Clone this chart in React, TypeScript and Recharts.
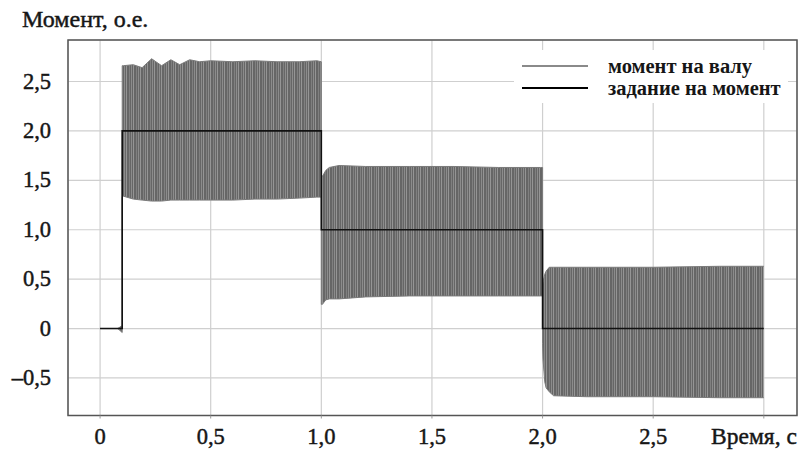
import React from 'react';
import {
  ComposedChart, Area, Line, XAxis, YAxis, CartesianGrid, Legend, ReferenceArea, Label,
} from 'recharts';

// Time axis, seconds
const torqueTime = [0, 0.08, 0.1, 0.1, 0.105, 0.15, 0.19, 0.233, 0.278, 0.32, 0.36, 0.405, 0.45, 0.5, 0.6, 0.7, 0.8, 0.9, 0.98, 1.0, 1.0, 1.005, 1.02, 1.036, 1.08, 1.2, 1.4, 1.6, 1.8, 1.99, 2.0, 2.0, 2.002, 2.01, 2.016, 2.03, 2.05, 2.2, 2.5, 2.8, 3.0];
// Upper envelope of shaft torque oscillation
const torqueHigh = [0, 0, 0.03, 2.66, 2.66, 2.67, 2.64, 2.73, 2.66, 2.72, 2.67, 2.72, 2.70, 2.71, 2.70, 2.71, 2.70, 2.70, 2.71, 2.70, 1.54, 1.54, 1.60, 1.63, 1.65, 1.64, 1.64, 1.64, 1.63, 1.63, 1.63, 0.45, 0.47, 0.55, 0.58, 0.62, 0.62, 0.62, 0.62, 0.63, 0.63];
// Lower envelope of shaft torque oscillation
const torqueLow = [0, 0, -0.04, 1.33, 1.34, 1.31, 1.30, 1.29, 1.29, 1.30, 1.30, 1.30, 1.30, 1.30, 1.30, 1.31, 1.31, 1.32, 1.33, 1.33, 0.245, 0.245, 0.29, 0.30, 0.30, 0.32, 0.33, 0.33, 0.33, 0.33, 0.33, -0.15, -0.31, -0.54, -0.6, -0.64, -0.68, -0.69, -0.69, -0.7, -0.7];

// Torque reference (step)
const refTime = [0, 0.1, 1.0, 2.0, 3.0];
const refValue = [0, 2, 1, 0, 0];

const xTicks = [0, 0.5, 1.0, 1.5, 2.0, 2.5, 3.0];
const yTicks = [-0.5, 0, 0.5, 1.0, 1.5, 2.0, 2.5];
const xDomain = [-0.145, 3.15];
const yDomain = [-0.88, 2.92];

const seriesNames = ['момент на валу', 'задание на момент'];
const seriesColors = ['#8a8a8a', '#000000'];

const torqueData = torqueTime.map((t, i) => ({ t, range: [torqueLow[i], torqueHigh[i]] }));
const refData = refTime.map((t, i) => ({ t, v: refValue[i] }));

const FONT = '"Liberation Serif", "Times New Roman", serif';
const TXT = '#161616';

const fmt = (v: number) => {
  if (v === 0) return '0';
  const s = Math.abs(v).toFixed(1).replace('.', ',');
  return v < 0 ? '\u2013' + s : s;
};

const YTick = (props: any) => {
  const { x, y, payload } = props;
  return (
    <text x={x} y={y} dy={7} textAnchor="end" fontFamily={FONT} fontSize={22.5} fill={TXT} stroke={TXT} strokeWidth={0.45}>
      {fmt(payload.value)}
    </text>
  );
};

const XTick = (props: any) => {
  const { x, y, payload } = props;
  if (payload.value === 3) {
    return (
      <text x={x + 33} y={y} dy={17} textAnchor="end" fontFamily={FONT} fontSize={23.5} fill={TXT} stroke={TXT} strokeWidth={0.45}>
        Время, с
      </text>
    );
  }
  return (
    <text x={x} y={y} dy={17} textAnchor="middle" fontFamily={FONT} fontSize={22.5} fill={TXT} stroke={TXT} strokeWidth={0.45}>
      {fmt(payload.value)}
    </text>
  );
};

const renderLegend = (props: any) => {
  const payload = [...(props.payload || [])].sort(
    (a: any, b: any) => seriesNames.indexOf(a.value) - seriesNames.indexOf(b.value)
  );
  return (
    <div style={{ background: '#fff', width: 274, height: 53 }}>
      <svg width={274} height={53}>
        {payload.map((entry: any, i: number) => {
          const idx = seriesNames.indexOf(entry.value);
          const color = idx >= 0 ? seriesColors[idx] : entry.color;
          const cy = 16 + i * 22;
          return (
            <g key={i}>
              <line x1={8} x2={74} y1={cy} y2={cy} stroke={color} strokeWidth={2} />
              <text x={94} y={cy + 7} fontFamily={FONT} fontSize={20.5} fontWeight="bold" fill={TXT}>
                {entry.value}
              </text>
            </g>
          );
        })}
      </svg>
    </div>
  );
};

export default function App() {
  return (
    <div style={{ position: 'absolute', left: 0, top: 0, width: 799, height: 453, background: '#fff' }}>
      <ComposedChart width={799} height={453} margin={{ top: 40, right: 2, bottom: 0, left: 0 }}>
        <defs>
          <pattern id="stripes" width={7} height={6} patternUnits="userSpaceOnUse">
            <rect x={0} y={0} width={7} height={6} fill="#666666" />
            <rect x={0} y={0} width={1} height={6} fill="#959595" />
            <rect x={3} y={0} width={1} height={6} fill="#808080" />
            <rect x={5} y={0} width={1} height={6} fill="#8c8c8c" />
          </pattern>
        </defs>
        <CartesianGrid stroke="#cfcfcf" strokeWidth={1.2} />
        <XAxis
          type="number"
          dataKey="t"
          domain={xDomain}
          ticks={xTicks}
          allowDataOverflow
          height={37.5}
          axisLine={false}
          tickLine={{ stroke: '#999' }}
          tickSize={3}
          tickMargin={8}
          tick={<XTick />}
          interval={0}
        />
        <YAxis
          type="number"
          domain={yDomain}
          ticks={yTicks}
          allowDataOverflow
          width={68}
          axisLine={false}
          tickLine={false}
          tickSize={0}
          tickMargin={17}
          tick={<YTick />}
          interval={0}
        >
          <Label
            content={() => (
              <text x={22} y={27} fontFamily={FONT} fontSize={24} fill={TXT} stroke={TXT} strokeWidth={0.45}>
                Момент, о.е.
              </text>
            )}
          />
        </YAxis>
        <Area
          data={torqueData}
          dataKey="range"
          name={seriesNames[0]}
          type="linear"
          stroke="#7a7a7a"
          strokeWidth={1}
          fill="url(#stripes)"
          fillOpacity={1}
          isAnimationActive={false}
          dot={false}
          activeDot={false}
        />
        <Line
          data={refData}
          dataKey="v"
          name={seriesNames[1]}
          type="stepAfter"
          stroke="#111"
          strokeWidth={1.6}
          dot={false}
          activeDot={false}
          isAnimationActive={false}
        />
        <ReferenceArea
          x1={xDomain[0]}
          x2={xDomain[1]}
          y1={yDomain[0]}
          y2={yDomain[1]}
          fill="none"
          stroke="#555"
          strokeWidth={1.5}
          ifOverflow="visible"
        />
        <Legend
          content={renderLegend}
          layout="horizontal"
          verticalAlign="middle"
          align="center"
          width={274}
          wrapperStyle={{ left: 514, top: 50, width: 274, height: 53 }}
        />
      </ComposedChart>
    </div>
  );
}
